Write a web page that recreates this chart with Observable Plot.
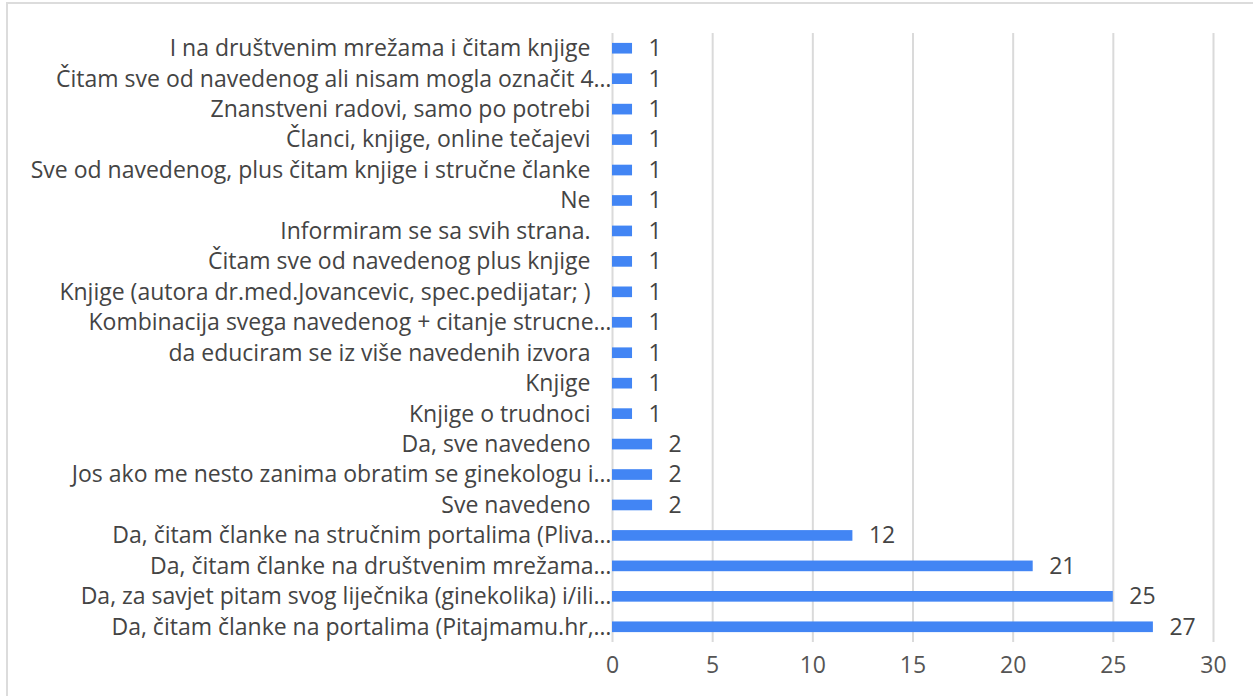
<!DOCTYPE html>
<html>
<head>
<meta charset="utf-8">
<script src="https://cdn.jsdelivr.net/npm/d3@7"></script>
<script src="https://cdn.jsdelivr.net/npm/@observablehq/plot@0.6"></script>
<style>
  html, body { margin: 0; padding: 0; background: #fff; overflow: hidden; }
  #wrap { position: relative; width: 1253px; height: 696px; }
  #border { position: absolute; left: 6px; top: 2px; width: 1260px; height: 710px; border: 2px solid #dcdcdc; box-sizing: border-box; }
  #chart { position: absolute; left: 0; top: 0; }
</style>
</head>
<body>
<div id="wrap"><div id="border"></div><div id="chart"></div></div>
<script>
const categories = [
  "I na društvenim mrežama i čitam knjige",
  "Čitam sve od navedenog ali nisam mogla označit 4…",
  "Znanstveni radovi, samo po potrebi",
  "Članci, knjige, online tečajevi",
  "Sve od navedenog, plus čitam knjige i stručne članke",
  "Ne",
  "Informiram se sa svih strana.",
  "Čitam sve od navedenog plus knjige",
  "Knjige (autora dr.med.Jovancevic, spec.pedijatar; )",
  "Kombinacija svega navedenog + citanje strucne…",
  "da educiram se iz više navedenih izvora",
  "Knjige",
  "Knjige o trudnoci",
  "Da, sve navedeno",
  "Jos ako me nesto zanima obratim se ginekologu i…",
  "Sve navedeno",
  "Da, čitam članke na stručnim portalima (Pliva…",
  "Da, čitam članke na društvenim mrežama…",
  "Da, za savjet pitam svog liječnika (ginekolika) i/ili…",
  "Da, čitam članke na portalima (Pitajmamu.hr,…"
];
const values = [1,1,1,1,1,1,1,1,1,1,1,1,1,2,2,2,12,21,25,27];
const xTicks = [0,5,10,15,20,25,30];

const data = categories.map((c, i) => ({category: c, value: values[i], truncated: c.endsWith("…")}));

const font = "'Open Sans', 'Liberation Sans', Arial, sans-serif";
const chart = Plot.plot({
  width: 1253,
  height: 696,
  marginLeft: 612,
  marginRight: 40,
  marginTop: 33,
  marginBottom: 54,
  style: {fontFamily: font, fontSize: "23px", color: "#444", background: "transparent"},
  x: {domain: [0, 30], ticks: xTicks, round: false},
  y: {domain: categories, paddingInner: 0.65, paddingOuter: 0.325, round: false, axis: null},
  marks: [
    Plot.ruleX(xTicks, {stroke: "#dadada", strokeWidth: 2}),
    Plot.barX(data, {x: "value", y: "category", fill: "#4285f4"}),
    Plot.text(data, {x: "value", y: "category", text: d => String(d.value), textAnchor: "start", dx: 16, fill: "#444", fontSize: 23}),
    Plot.text(data.filter(d => !d.truncated), {x: () => 0, y: "category", text: "category", textAnchor: "end", dx: -22, fill: "#444", fontSize: 23}),
    Plot.text(data.filter(d => d.truncated), {x: () => 0, y: "category", text: "category", textAnchor: "end", dx: -1, fill: "#444", fontSize: 23}),
    Plot.axisX({ticks: xTicks, tickSize: 0, tickPadding: 14, label: null, fill: "#555", fontSize: 23})
  ]
});
document.getElementById("chart").appendChild(chart);
</script>
</body>
</html>
